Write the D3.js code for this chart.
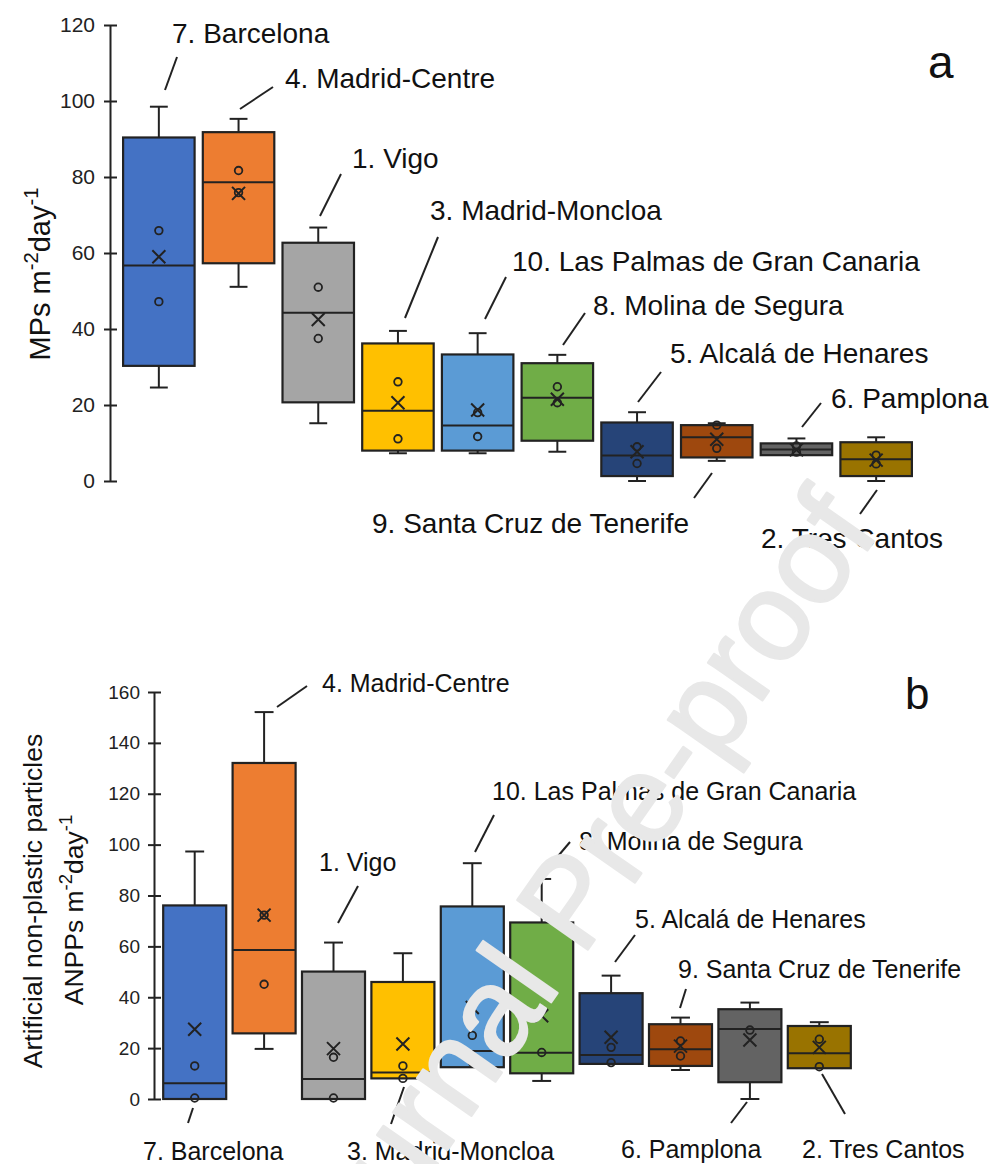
<!DOCTYPE html>
<meta charset="utf-8" />
<script src="https://d3js.org/d3.v7.min.js"></script>
<style>
  body { margin: 0; background: #fff; }
  svg text { font-family: "Liberation Sans", Arial, sans-serif; }
</style>
<div id="chart"></div>
<script>
  // sampling sites, same order in both panels
  const sites = [
    "7. Barcelona",
    "4. Madrid-Centre",
    "1. Vigo",
    "3. Madrid-Moncloa",
    "10. Las Palmas de Gran Canaria",
    "8. Molina de Segura",
    "5. Alcalá de Henares",
    "9. Santa Cruz de Tenerife",
    "6. Pamplona",
    "2. Tres Cantos",
  ];
  const palette = ["#4472C4", "#ED7D31", "#A5A5A5", "#FFC000", "#5B9BD5",
                   "#70AD47", "#264478", "#9E480E", "#636363", "#997300"];

  // panel a : MPs m-2 day-1
  const mpMin    = [24.6, 51.1, 15.2, 7.3, 7.3, 7.7, 0, 5.3, 6.8, 0];
  const mpQ1     = [30.3, 57.3, 20.7, 8.0, 8.0, 10.6, 1.3, 6.2, 6.8, 1.3];
  const mpMedian = [56.7, 78.6, 44.3, 18.5, 14.6, 21.9, 6.7, 11.5, 8.3, 5.7];
  const mpQ3     = [90.4, 91.8, 62.7, 36.2, 33.3, 31.0, 15.4, 14.7, 9.9, 10.2];
  const mpMax    = [98.5, 95.3, 66.7, 39.5, 38.9, 33.2, 18.1, 15.2, 11.2, 11.5];
  const mpMean   = [59.0, 75.7, 42.5, 20.6, 18.7, 21.5, 7.7, 11.0, 8.2, 5.5];
  const mpPoints = [[65.9, 47.2], [81.7, 75.9], [51.0, 37.5], [26.1, 11.1], [18.0, 11.7],
                    [24.8, 20.6], [9.0, 4.6], [14.7, 8.6], [9.2, 7.6], [6.8, 4.5]];

  // panel b : ANPPs m-2 day-1
  const anMin    = [0, 19.7, 0, 8.1, 12.5, 7.1, 13.8, 11.4, 0, 12.1];
  const anQ1     = [0, 25.8, 0, 8.1, 12.5, 10.1, 13.8, 13.0, 6.6, 12.1];
  const anMedian = [6.2, 58.6, 7.9, 10.4, 18.9, 18.2, 17.3, 19.6, 27.5, 18.0];
  const anQ3     = [76.1, 132.1, 50.1, 46.0, 75.7, 69.4, 41.6, 29.4, 35.3, 28.7];
  const anMax    = [97.3, 152.1, 61.5, 57.3, 92.7, 86.5, 48.5, 32.0, 37.9, 30.2];
  const anMean   = [27.4, 72.3, 19.8, 21.6, 36.0, 32.7, 24.3, 20.8, 23.2, 20.3];
  const anPoints = [[13.0, 0.4], [72.3, 45.1], [16.4, 0.4], [13.0, 8.1], [25.0, 14.5],
                    [18.3], [20.3, 14.3], [22.8, 16.9], [27.1], [23.5, 12.7]];

  const yTicksA = d3.range(0, 121, 20);
  const yTicksB = d3.range(0, 161, 20);

  const ink = "#222";
  const width = 999;
  const height = 1164;

  const svg = d3
    .select("#chart")
    .append("svg")
    .attr("width", width)
    .attr("height", height);
  svg.append("rect").attr("width", width).attr("height", height).attr("fill", "#fff");

  const color = d3.scaleOrdinal().domain(sites).range(palette);

  function drawPanel(p) {
    const g = svg.append("g");
    const x = d3.scaleBand().domain(sites).range(p.xRange)
      .paddingInner(p.pad).paddingOuter(p.pad / 2);
    const y = d3.scaleLinear().domain([0, d3.max(p.ticks)]).range(p.yRange);
    const bw = x.bandwidth();
    const cx = (i) => x(sites[i]) + bw / 2;
    const cap = bw * p.cap;

    // axis
    const ax = g.append("g")
      .attr("transform", `translate(${p.axisX},0)`)
      .call(d3.axisLeft(y).tickValues(p.ticks).tickSize(6).tickPadding(p.tickPad).tickSizeOuter(0));
    ax.attr("font-size", p.tickFont);
    ax.select(".domain").attr("stroke", ink).attr("stroke-width", 2);
    ax.selectAll(".tick line").attr("x1", 7).attr("x2", -6).attr("stroke", ink).attr("stroke-width", 2);
    ax.selectAll(".tick text").attr("fill", ink);

    const boxes = g.selectAll("g.box").data(sites).enter().append("g").attr("class", "box");

    // whiskers
    boxes.append("line")
      .attr("x1", (d, i) => cx(i)).attr("x2", (d, i) => cx(i))
      .attr("y1", (d, i) => y(p.q3[i])).attr("y2", (d, i) => y(p.max[i]));
    boxes.append("line")
      .attr("x1", (d, i) => cx(i) - cap / 2).attr("x2", (d, i) => cx(i) + cap / 2)
      .attr("y1", (d, i) => y(p.max[i])).attr("y2", (d, i) => y(p.max[i]));
    boxes.filter((d, i) => p.min[i] < p.q1[i]).each(function (d) {
      const i = sites.indexOf(d);
      const s = d3.select(this);
      s.append("line").attr("x1", cx(i)).attr("x2", cx(i))
        .attr("y1", y(p.q1[i])).attr("y2", y(p.min[i]));
      s.append("line").attr("x1", cx(i) - cap / 2).attr("x2", cx(i) + cap / 2)
        .attr("y1", y(p.min[i])).attr("y2", y(p.min[i]));
    });
    boxes.selectAll("line").attr("stroke", ink).attr("stroke-width", 2);

    // box and median
    boxes.append("rect")
      .attr("x", (d) => x(d))
      .attr("width", bw)
      .attr("y", (d, i) => y(p.q3[i]))
      .attr("height", (d, i) => y(p.q1[i]) - y(p.q3[i]))
      .attr("fill", (d) => color(d))
      .attr("stroke", ink)
      .attr("stroke-width", 2.2);
    boxes.append("line")
      .attr("x1", (d) => x(d)).attr("x2", (d) => x(d) + bw)
      .attr("y1", (d, i) => y(p.median[i])).attr("y2", (d, i) => y(p.median[i]))
      .attr("stroke", ink).attr("stroke-width", 2);

    // individual samples
    boxes.each(function (d, i) {
      d3.select(this).selectAll("circle").data(p.points[i]).enter().append("circle")
        .attr("cx", cx(i)).attr("cy", (v) => y(v)).attr("r", 3.8)
        .attr("fill", "none").attr("stroke", ink).attr("stroke-width", 1.8);
    });

    // mean
    const m = 6.5;
    boxes.append("path")
      .attr("d", (d, i) => {
        const px = cx(i), py = y(p.mean[i]);
        return `M${px - m},${py - m}L${px + m},${py + m}M${px - m},${py + m}L${px + m},${py - m}`;
      })
      .attr("stroke", ink).attr("stroke-width", 2).attr("fill", "none");

    // site labels with leader lines
    p.notes.forEach((n) => {
      g.append("line")
        .attr("x1", n[3]).attr("y1", n[4]).attr("x2", n[5]).attr("y2", n[6])
        .attr("stroke", ink).attr("stroke-width", 2);
      g.append("text")
        .attr("x", n[1]).attr("y", n[2])
        .attr("font-size", p.labelFont).attr("fill", "#111")
        .text(sites[n[0]]);
    });

    g.append("text").attr("x", p.letter[0]).attr("y", p.letter[1])
      .attr("font-size", p.letter[2]).attr("fill", "#111").text(p.letter[3]);
    return g;
  }

  function unitTitle(g, tx, ty, prefix, size) {
    const t = g.append("text")
      .attr("transform", `translate(${tx},${ty}) rotate(-90)`)
      .attr("text-anchor", "middle")
      .attr("font-size", size)
      .attr("fill", "#111");
    const sup = size * 0.42;
    t.append("tspan").text(prefix + " m");
    t.append("tspan").attr("font-size", size * 0.7).attr("dy", -sup).text("-2");
    t.append("tspan").attr("dy", sup).text("day");
    t.append("tspan").attr("font-size", size * 0.7).attr("dy", -sup).text("-1");
  }

  // [site, textX, textY, lineX1, lineY1, lineX2, lineY2]
  const notesA = [
    [0, 172, 43, 165, 90, 177, 57],
    [1, 285, 88, 240, 109, 273, 87],
    [2, 352, 168, 320, 216, 341, 174],
    [3, 430, 220, 405, 318, 438, 237],
    [4, 512, 271, 485, 319, 506, 277],
    [5, 593, 315, 563, 345, 585, 313],
    [6, 670, 363, 638, 402, 661, 372],
    [8, 831, 408, 802, 427, 821, 403],
    [7, 372, 533, 694, 498, 712, 473],
    [9, 761, 548, 860, 514, 877, 490],
  ];
  const notesB = [
    [1, 322, 692, 277, 707, 307, 686],
    [2, 319, 871, 338, 923, 358, 886],
    [4, 492, 800, 475, 852, 494, 815],
    [5, 579, 850, 548, 868, 570, 842],
    [6, 635, 928, 615, 962, 635, 935],
    [7, 678, 978, 680, 1008, 686, 989],
    [0, 143, 1160, 188, 1123, 193, 1108],
    [3, 347, 1160, 391, 1124, 404, 1087],
    [8, 621, 1158, 731, 1123, 747, 1102],
    [9, 802, 1158, 822, 1074, 845, 1114],
  ];

  const gA = drawPanel({
    xRange: [119, 916], pad: 0.103, yRange: [481, 25], ticks: yTicksA,
    axisX: 110, tickPad: 9, tickFont: 21, cap: 0.25, labelFont: 28,
    min: mpMin, q1: mpQ1, median: mpMedian, q3: mpQ3, max: mpMax,
    mean: mpMean, points: mpPoints, notes: notesA, letter: [928, 78, 46, "a"],
  });
  unitTitle(gA, 50, 274, "MPs", 29);

  const gB = drawPanel({
    xRange: [160, 854], pad: 0.092, yRange: [1099, 692], ticks: yTicksB,
    axisX: 154, tickPad: 8, tickFont: 19, cap: 0.3, labelFont: 25,
    min: anMin, q1: anQ1, median: anMedian, q3: anQ3, max: anMax,
    mean: anMean, points: anPoints, notes: notesB, letter: [905, 709, 44, "b"],
  });
  gB.append("text")
    .attr("transform", "translate(42,901) rotate(-90)")
    .attr("text-anchor", "middle")
    .attr("font-size", 26.5)
    .attr("fill", "#111")
    .text("Artificial non-plastic particles");
  unitTitle(gB, 83, 910, "ANPPs", 26.5);

  // journal watermark laid over the figure
  svg.append("text")
    .attr("transform", "translate(327,1322) rotate(-55)")
    .attr("font-size", 125)
    .attr("fill", "#e8e8e8")
    .attr("stroke", "#e8e8e8")
    .attr("stroke-width", 2.5)
    .attr("stroke-linejoin", "round")
    .text("Journal Pre-proof");
</script>
